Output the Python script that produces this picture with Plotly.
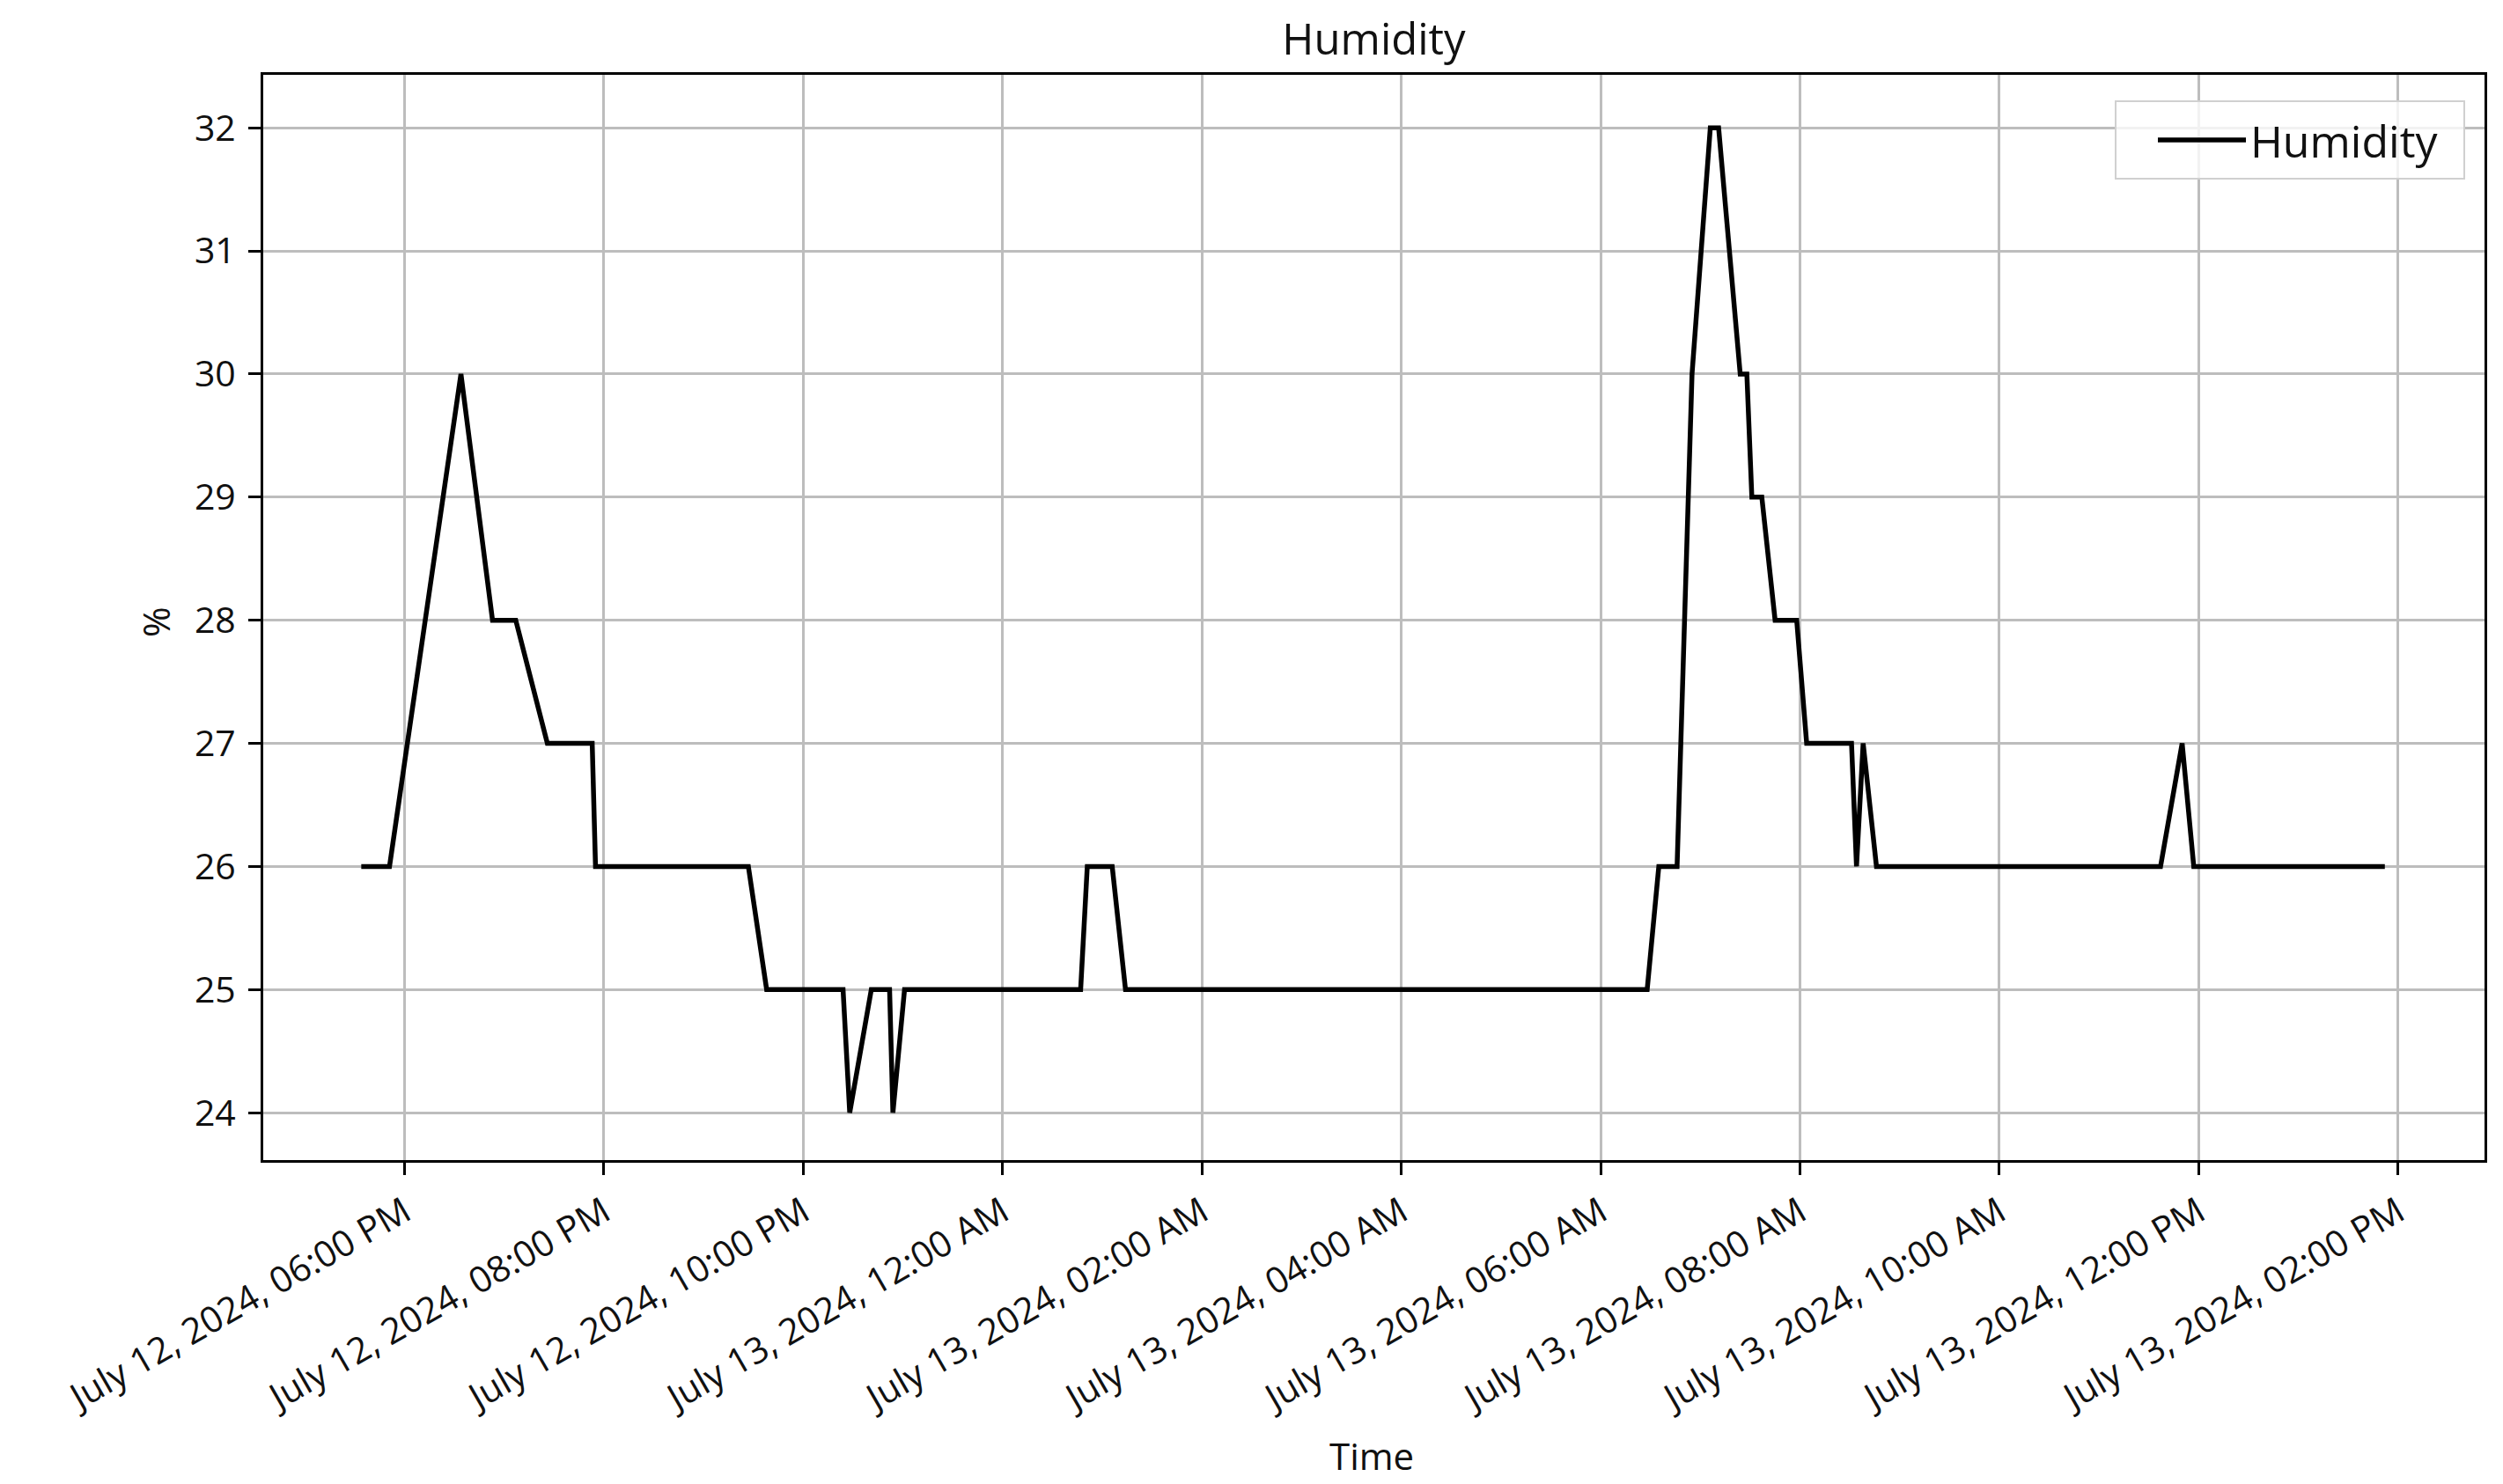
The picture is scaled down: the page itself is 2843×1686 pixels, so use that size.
import plotly.graph_objects as go

# Data (vertices of the humidity trace)
times = [
    "2024-07-12 17:34", "2024-07-12 17:51", "2024-07-12 18:34", "2024-07-12 18:53",
    "2024-07-12 19:07", "2024-07-12 19:26", "2024-07-12 19:53", "2024-07-12 19:55",
    "2024-07-12 21:27", "2024-07-12 21:38", "2024-07-12 22:24", "2024-07-12 22:28",
    "2024-07-12 22:41", "2024-07-12 22:52", "2024-07-12 22:54", "2024-07-12 23:01",
    "2024-07-13 00:47", "2024-07-13 00:51", "2024-07-13 01:06", "2024-07-13 01:14",
    "2024-07-13 06:28", "2024-07-13 06:35", "2024-07-13 06:46", "2024-07-13 06:55",
    "2024-07-13 07:06", "2024-07-13 07:11", "2024-07-13 07:24", "2024-07-13 07:28",
    "2024-07-13 07:31", "2024-07-13 07:37", "2024-07-13 07:45", "2024-07-13 07:58",
    "2024-07-13 08:04", "2024-07-13 08:31", "2024-07-13 08:34", "2024-07-13 08:38",
    "2024-07-13 08:46", "2024-07-13 11:37", "2024-07-13 11:50", "2024-07-13 11:57",
    "2024-07-13 13:52",
]
humidity = [
    26, 26, 30, 28,
    28, 27, 27, 26,
    26, 25, 25, 24,
    25, 25, 24, 25,
    25, 26, 26, 25,
    25, 26, 26, 30,
    32, 32, 30, 30,
    29, 29, 28, 28,
    27, 27, 26, 27,
    26, 26, 27, 26,
    26,
]
y_ticks = [24, 25, 26, 27, 28, 29, 30, 31, 32]

FONT = "Open Sans"
OFF = 8  # page body margin of the generated html
W, H = 2843 - OFF, 1686 - OFF
L, T = 299 - OFF, 85 - OFF
RIGHT_EDGE, BOTTOM_EDGE = 2822 - OFF, 1318 - OFF
R, B = W - RIGHT_EDGE, H - BOTTOM_EDGE
plot_w = W - L - R
plot_h = H - T - B


def px_x(page_x):
    return (page_x - OFF - L) / plot_w


def px_y(page_y):
    return (BOTTOM_EDGE - (page_y - OFF)) / plot_h


fig = go.Figure()
fig.add_trace(go.Scatter(
    x=times, y=humidity, mode="lines", name="Humidity",
    line=dict(color="black", width=5.5),
))

axis_common = dict(
    showline=True, linecolor="black", linewidth=3, mirror=True,
    ticks="outside", ticklen=14, tickwidth=3, tickcolor="black",
    showgrid=True, gridcolor="#bdbdbd", gridwidth=2.5,
    zeroline=False,
    tickfont=dict(family=FONT, size=41, color="#111111"),
)

fig.update_layout(
    width=W, height=H,
    margin=dict(l=L, r=R, t=T, b=B),
    paper_bgcolor="white", plot_bgcolor="white",
    title=dict(text="Humidity", x=0.5, xref="paper", y=1 - (45 - OFF) / H, yanchor="middle",
               font=dict(family=FONT, size=49, color="#111111")),
    xaxis=dict(
        **axis_common,
        type="date",
        range=["2024-07-12 16:35", "2024-07-13 14:52"],
        tick0="2024-07-12 18:00", dtick=2 * 3600 * 1000,
        tickformat="%B %d, %Y, %I:%M %p",
        tickangle=-30,
        ticklabelstandoff=2,
    ),
    yaxis=dict(
        **axis_common,
        range=[23.615, 32.43],
        tickvals=y_ticks,
        ticklabelstandoff=6,
    ),
    showlegend=True,
    legend=dict(
        x=px_x(2446), xanchor="left",
        y=px_y(159), yanchor="middle",
        bgcolor="rgba(0,0,0,0)", borderwidth=0,
        font=dict(family=FONT, size=50, color="#111111"),
        itemwidth=100,
    ),
    shapes=[
        dict(type="rect", xref="paper", yref="paper", layer="above",
             x0=px_x(2403), x1=px_x(2799), y0=px_y(203), y1=px_y(115),
             line=dict(color="#d0d0d0", width=2),
             fillcolor="rgba(255,255,255,0.8)"),
    ],
    annotations=[
        dict(text="Time", xref="paper", yref="paper",
             x=px_x(1558), y=px_y(1653),
             xanchor="center", yanchor="middle", showarrow=False,
             font=dict(family=FONT, size=42, color="#111111")),
        dict(text="%", xref="paper", yref="paper",
             x=px_x(176), y=px_y(707),
             xanchor="center", yanchor="middle", showarrow=False, textangle=-90,
             font=dict(family=FONT, size=42, color="#111111")),
    ],
)

fig.write_html("out.html")
